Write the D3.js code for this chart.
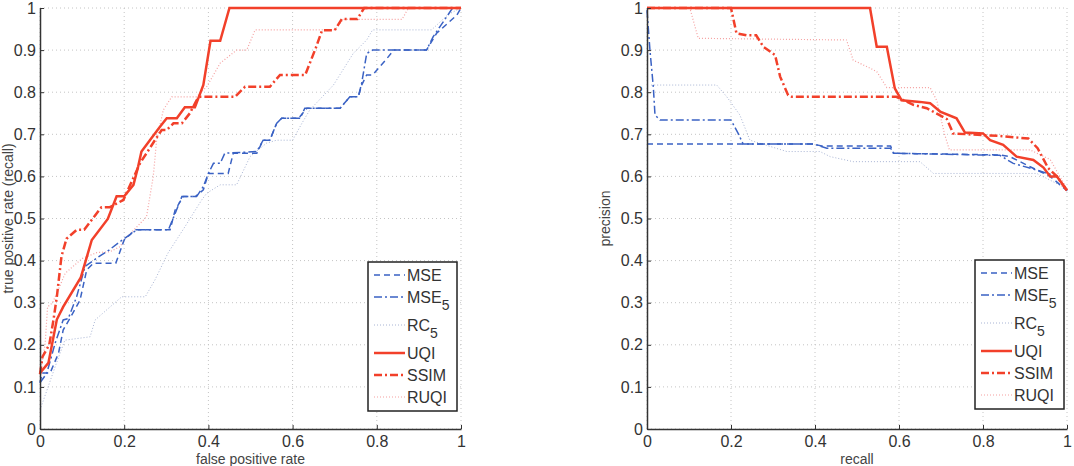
<!DOCTYPE html>
<meta charset="utf-8">
<script src="https://cdn.jsdelivr.net/npm/d3@7"></script>
<style>
body { margin: 0; background: #fff; }
text { font-family: "Liberation Sans", Arial, sans-serif; }
.tick-label { font-size: 16px; fill: #333; }
.axis-label { font-size: 14px; fill: #444; }
.legend-text { font-size: 16px; fill: #333; }
</style>
<body>
<script>

// ---- data ----
var seriesNames = ["MSE", "MSE5", "RC5", "UQI", "SSIM", "RUQI"];
var xTicks = [0, 0.2, 0.4, 0.6, 0.8, 1];
var yTicks = [0, 0.1, 0.2, 0.3, 0.4, 0.5, 0.6, 0.7, 0.8, 0.9, 1];

// ROC curves: [false positive rate, true positive rate]
var rocMSE = [[0,0.11],[0.005,0.133],[0.024,0.133],[0.044,0.18],[0.055,0.235],[0.075,0.27],[0.095,0.306],
  [0.111,0.378],[0.127,0.394],[0.18,0.394],[0.2,0.449],[0.226,0.473],[0.309,0.473],[0.321,0.52],[0.34,0.552],
  [0.369,0.552],[0.388,0.568],[0.4,0.607],[0.447,0.607],[0.459,0.655],[0.515,0.655],[0.53,0.686],[0.546,0.686],
  [0.562,0.726],[0.574,0.738],[0.614,0.738],[0.634,0.762],[0.713,0.762],[0.736,0.789],[0.756,0.789],[0.764,0.817],
  [0.776,0.841],[0.79,0.841],[0.824,0.88],[0.84,0.9],[0.918,0.9],[0.942,0.94],[0.99,0.983],[1,1]];
var rocMSE5 = [[0,0.11],[0.016,0.132],[0.036,0.204],[0.055,0.259],[0.067,0.262],[0.087,0.314],[0.107,0.386],
  [0.139,0.409],[0.164,0.425],[0.19,0.445],[0.23,0.473],[0.305,0.473],[0.321,0.512],[0.337,0.552],[0.372,0.552],
  [0.388,0.576],[0.4,0.607],[0.412,0.631],[0.428,0.631],[0.439,0.655],[0.515,0.659],[0.53,0.686],[0.546,0.686],
  [0.562,0.726],[0.574,0.738],[0.618,0.738],[0.629,0.762],[0.713,0.762],[0.736,0.789],[0.756,0.789],[0.764,0.821],
  [0.776,0.892],[0.79,0.9],[0.918,0.9],[0.934,0.932],[0.974,0.991],[0.98,1],[1,1]];
var rocRC5 = [[0,0.045],[0.036,0.148],[0.059,0.211],[0.119,0.219],[0.131,0.259],[0.194,0.314],[0.25,0.314],
  [0.273,0.354],[0.304,0.418],[0.344,0.48],[0.384,0.544],[0.396,0.56],[0.428,0.58],[0.467,0.58],[0.499,0.647],
  [0.538,0.679],[0.562,0.686],[0.6,0.686],[0.622,0.726],[0.641,0.758],[0.697,0.817],[0.744,0.892],[0.776,0.924],
  [0.79,0.948],[0.93,0.948],[0.97,0.985],[1,1]];
var rocUQI = [[0,0.133],[0.02,0.157],[0.04,0.26],[0.055,0.29],[0.097,0.36],[0.123,0.449],[0.161,0.499],
  [0.182,0.553],[0.2,0.553],[0.222,0.58],[0.233,0.623],[0.241,0.659],[0.261,0.686],[0.285,0.718],[0.301,0.738],
  [0.325,0.738],[0.344,0.764],[0.368,0.764],[0.388,0.817],[0.405,0.922],[0.428,0.922],[0.45,1],[1,1]];
var rocSSIM = [[0,0.13],[0.006,0.172],[0.022,0.2],[0.032,0.259],[0.04,0.314],[0.051,0.41],[0.063,0.452],
  [0.087,0.473],[0.105,0.473],[0.123,0.497],[0.146,0.527],[0.166,0.527],[0.198,0.544],[0.238,0.632],
  [0.253,0.655],[0.273,0.686],[0.289,0.71],[0.301,0.71],[0.317,0.726],[0.337,0.726],[0.356,0.75],[0.372,0.781],
  [0.38,0.789],[0.463,0.789],[0.487,0.813],[0.546,0.813],[0.57,0.841],[0.63,0.841],[0.655,0.905],[0.67,0.947],
  [0.7,0.947],[0.717,0.974],[0.754,0.974],[0.77,1],[1,1]];
var rocRUQI = [[0,0.13],[0.012,0.2],[0.018,0.29],[0.03,0.3],[0.06,0.37],[0.1,0.405],[0.135,0.419],
  [0.166,0.421],[0.19,0.433],[0.2,0.449],[0.253,0.504],[0.269,0.6],[0.277,0.686],[0.293,0.758],[0.313,0.789],
  [0.372,0.789],[0.396,0.813],[0.428,0.869],[0.467,0.9],[0.491,0.9],[0.511,0.948],[0.7,0.948],[0.72,0.973],
  [0.86,0.973],[0.875,1],[1,1]];

// precision-recall curves: [recall, precision]
var prMSE = [[0,0.677],[0.396,0.677],[0.416,0.672],[0.58,0.672],[0.587,0.655],[0.84,0.651],[0.864,0.647],
  [0.912,0.623],[0.96,0.6],[1,0.566]];
var prMSE5 = [[0,0.995],[0.007,0.9],[0.015,0.813],[0.019,0.746],[0.031,0.734],[0.2,0.734],[0.217,0.702],
  [0.229,0.677],[0.396,0.677],[0.428,0.667],[0.58,0.667],[0.587,0.655],[0.84,0.65],[0.872,0.631],[0.928,0.615],
  [0.976,0.6],[1,0.566]];
var prRC5 = [[0.01,0.817],[0.166,0.817],[0.19,0.789],[0.221,0.746],[0.245,0.686],[0.333,0.659],[0.412,0.659],
  [0.436,0.647],[0.491,0.635],[0.65,0.635],[0.682,0.607],[0.928,0.607],[0.96,0.591],[1,0.57]];
var prUQI = [[0,1],[0.531,1],[0.547,0.908],[0.571,0.908],[0.59,0.809],[0.606,0.781],[0.65,0.777],
  [0.674,0.774],[0.698,0.754],[0.737,0.738],[0.757,0.704],[0.8,0.702],[0.817,0.686],[0.848,0.675],
  [0.88,0.647],[0.92,0.639],[0.944,0.621],[0.96,0.6],[0.976,0.6],[1,0.567]];
var prSSIM = [[0,1],[0.2,1],[0.213,0.94],[0.237,0.935],[0.26,0.935],[0.277,0.908],[0.305,0.888],
  [0.317,0.837],[0.336,0.793],[0.345,0.789],[0.594,0.789],[0.634,0.77],[0.666,0.762],[0.714,0.736],
  [0.729,0.702],[0.84,0.696],[0.908,0.69],[0.93,0.667],[0.955,0.62],[0.976,0.6],[1,0.566]];
var prRUQI = [[0,1],[0.102,1],[0.122,0.928],[0.475,0.924],[0.491,0.876],[0.523,0.861],[0.547,0.849],
  [0.571,0.811],[0.674,0.811],[0.69,0.78],[0.708,0.702],[0.72,0.663],[0.912,0.663],[0.96,0.64],[1,0.57]];

// ---- styles per series ----
var styles = {
  MSE:  { color: "#3a62c4", width: 1.5, dash: "6,4" },
  MSE5: { color: "#3a62c4", width: 1.5, dash: "8,3,2,3" },
  RC5:  { color: "#a8b4d4", width: 1,   dash: "1,2" },
  UQI:  { color: "#f2402a", width: 2.5, dash: null },
  SSIM: { color: "#f2402a", width: 2.5, dash: "8,3,2,3" },
  RUQI: { color: "#f5a0a0", width: 1.2, dash: "1,2" }
};

var svg = d3.select("body").append("svg")
    .attr("width", 1074)
    .attr("height", 466);

function drawPanel(opts) {
  var x = d3.scaleLinear().domain([0, 1]).range([opts.left, opts.right]);
  var y = d3.scaleLinear().domain([0, 1]).range([opts.bottom, opts.top]);

  var g = svg.append("g");

  // dotted grid
  g.selectAll(".gx").data(xTicks).enter().append("line")
      .attr("x1", function(d) { return x(d); }).attr("x2", function(d) { return x(d); })
      .attr("y1", y(0)).attr("y2", y(1))
      .style("stroke", "#c4c4c4").style("stroke-width", 1).style("stroke-dasharray", "1,3");
  g.selectAll(".gy").data(yTicks).enter().append("line")
      .attr("x1", x(0)).attr("x2", x(1))
      .attr("y1", function(d) { return y(d); }).attr("y2", function(d) { return y(d); })
      .style("stroke", "#c4c4c4").style("stroke-width", 1).style("stroke-dasharray", "1,3");

  // curves
  var clipId = "clip" + opts.id;
  svg.append("clipPath").attr("id", clipId).append("rect")
      .attr("x", x(0) - 2).attr("y", y(1) - 2)
      .attr("width", x(1) - x(0) + 4).attr("height", y(0) - y(1) + 4);

  var line = d3.line()
      .x(function(d) { return x(d[0]); })
      .y(function(d) { return y(d[1]); });

  var order = ["RC5", "RUQI", "MSE", "MSE5", "SSIM", "UQI"];
  order.forEach(function(name) {
    var s = styles[name];
    g.append("path")
        .datum(opts.data[name])
        .attr("clip-path", "url(#" + clipId + ")")
        .attr("d", line)
        .style("fill", "none")
        .style("stroke", s.color)
        .style("stroke-width", s.width)
        .style("stroke-dasharray", s.dash);
  });

  // axes (left + bottom, ticks inward, MATLAB style)
  var xAxis = d3.axisBottom(x).tickValues(xTicks).tickSizeInner(-4).tickSizeOuter(0)
      .tickFormat(function(d) { return d3.format("~g")(d); });
  var yAxis = d3.axisLeft(y).tickValues(yTicks).tickSizeInner(-4).tickSizeOuter(0)
      .tickFormat(function(d) { return d3.format("~g")(d); });

  var gx = g.append("g").attr("transform", "translate(0," + y(0) + ")").call(xAxis);
  var gy = g.append("g").attr("transform", "translate(" + x(0) + ",0)").call(yAxis);
  [gx, gy].forEach(function(a) {
    a.select(".domain").style("stroke", "#333").style("stroke-width", 1.5);
    a.selectAll(".tick line").style("stroke", "#333");
    a.selectAll(".tick text").attr("class", "tick-label").style("font-family", null).style("font-size", null);
  });
  gx.selectAll(".tick text").attr("y", 7).attr("dy", "0.71em");
  gy.selectAll(".tick text").attr("x", -4);

  // axis labels
  g.append("text").attr("class", "axis-label")
      .attr("x", (x(0) + x(1)) / 2).attr("y", 464)
      .attr("text-anchor", "middle")
      .text(opts.xLabel);
  g.append("text").attr("class", "axis-label")
      .attr("transform", "translate(" + opts.yLabelX + "," + (y(0) + y(1)) / 2 + ") rotate(-90)")
      .attr("text-anchor", "middle")
      .text(opts.yLabel);

  // legend
  var lg = g.append("g").attr("transform", "translate(" + opts.legendX + "," + opts.legendY + ")");
  lg.append("rect")
      .attr("width", 89).attr("height", 149)
      .style("fill", "#fff").style("stroke", "#222").style("stroke-width", 1.5);
  var rowY = [13, 35, 63, 91, 113, 135];
  seriesNames.forEach(function(name, i) {
    var s = styles[name];
    var row = lg.append("g").attr("transform", "translate(0," + rowY[i] + ")");
    row.append("line")
        .attr("x1", 6).attr("x2", 37).attr("y1", 0).attr("y2", 0)
        .style("stroke", s.color)
        .style("stroke-width", s.width)
        .style("stroke-dasharray", s.dash);
    var t = row.append("text").attr("class", "legend-text")
        .attr("x", 39).attr("dy", "0.35em");
    var base = name.replace(/5$/, "");
    t.append("tspan").text(base);
    if (name !== base) {
      t.append("tspan").attr("dy", "0.55em").style("font-size", "14px").text("5");
    }
  });
}

drawPanel({
  id: "roc", left: 40, right: 461, top: 8, bottom: 429,
  xLabel: "false positive rate", yLabel: "true positive rate (recall)", yLabelX: 13,
  legendX: 368, legendY: 262,
  data: { MSE: rocMSE, MSE5: rocMSE5, RC5: rocRC5, UQI: rocUQI, SSIM: rocSSIM, RUQI: rocRUQI }
});

drawPanel({
  id: "pr", left: 647, right: 1067, top: 8, bottom: 429,
  xLabel: "recall", yLabel: "precision", yLabelX: 610,
  legendX: 975, legendY: 260,
  data: { MSE: prMSE, MSE5: prMSE5, RC5: prRC5, UQI: prUQI, SSIM: prSSIM, RUQI: prRUQI }
});

</script>
</body>
